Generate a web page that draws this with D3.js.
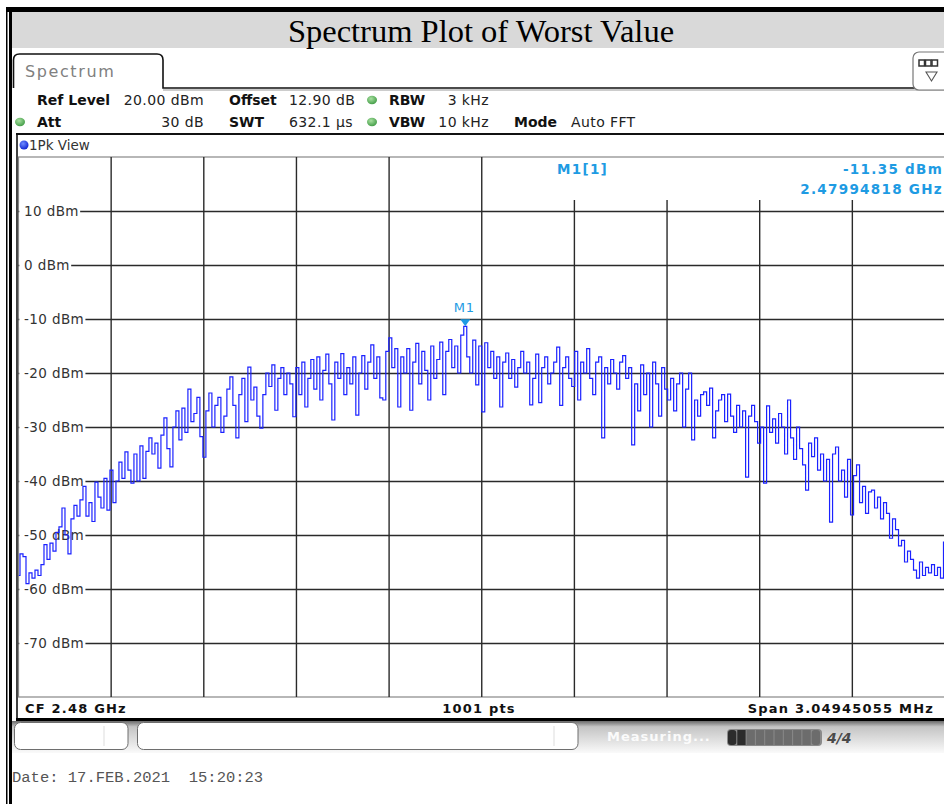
<!DOCTYPE html>
<html>
<head>
<meta charset="utf-8">
<script src="https://cdn.jsdelivr.net/npm/d3@7"></script>
<style>
  html, body { margin: 0; padding: 0; background: #fff; }
  svg { display: block; }
  text { font-family: "DejaVu Sans", sans-serif; }
</style>
</head>
<body>
<div id="chart"></div>
<script>
// Instrument settings
const centerGHz = 2.48;
const spanMHz = 3.04945055;
const refLevel = 20;          // top of grid, dBm
const bottomLevel = -80;      // bottom of grid, dBm
const yTicks = [10, 0, -10, -20, -30, -40, -50, -60, -70];
const xDivisions = 10;

// Header readouts
const settingsRow1 = [
    { label: 'Ref Level', value: '20.00 dBm', lx: 37, vx: 204, anchor: 'end' },
    { label: 'Offset', value: '12.90 dB', lx: 229, vx: 289, anchor: 'start' },
    { label: 'RBW', value: '3 kHz', lx: 389, vx: 489, anchor: 'end', dot: 372 }
];
const settingsRow2 = [
    { label: 'Att', value: '30 dB', lx: 37, vx: 204, anchor: 'end', dot: 20 },
    { label: 'SWT', value: '632.1 µs', lx: 229, vx: 289, anchor: 'start' },
    { label: 'VBW', value: '10 kHz', lx: 389, vx: 489, anchor: 'end', dot: 372 },
    { label: 'Mode', value: 'Auto FFT', lx: 514, vx: 571, anchor: 'start' }
];

// Marker readout
const markerName = 'M1';
const markerTrace = 'M1[1]';
const markerLevel = '-11.35 dBm';
const markerFreq = '2.47994818 GHz';

// Trace, max-peak detector, evenly spaced over the span
const traceDbm = [
    -57.5, -53.5, -54, -59, -57, -58, -56.5, -57.5, -55.5, -51.8,
    -54.5, -51.5, -53, -49.5, -48.5, -45, -50, -53.5, -47, -44.5,
    -46.5, -43.5, -41, -46.5, -44, -47.5, -40.2, -43, -45, -39.5,
    -45.4, -38, -44, -40, -36.5, -39.5, -34.6, -38, -40.4, -35,
    -40, -33.5, -39.5, -34.5, -32, -35, -33, -37.6, -31.5, -28.3,
    -34, -37.4, -30, -27, -32.4, -26.5, -31, -23, -29, -27.5,
    -24.5, -31.8, -35.6, -27, -23.7, -30, -26, -24.5, -31, -28,
    -23, -20.7, -26, -32, -24, -21, -29, -18.9, -25, -22.6,
    -28, -30.2, -24, -20, -22.5, -18.5, -26.9, -21, -19, -24,
    -20, -22, -28.1, -19, -24, -18, -26.3, -21, -17.5, -23,
    -17, -25, -19.5, -16.5, -22, -28.7, -18, -21, -16.4, -24,
    -19, -22, -17, -27.8, -20, -16.8, -23, -18, -14.8, -21,
    -17, -24.6, -25, -16, -13.5, -19, -15.5, -26.3, -17, -20,
    -15.5, -26.9, -18, -14.5, -22, -16, -19.5, -25, -15, -21,
    -17.5, -14.3, -24, -16, -13.8, -19, -15, -20, -13, -11.35,
    -17, -20, -13.9, -22.2, -15, -27.2, -14.4, -19, -16, -21,
    -17, -26.3, -18, -16.3, -21, -17.5, -22.6, -19, -16, -20,
    -18, -25.9, -21, -16.5, -25.5, -19, -17, -22, -20, -18,
    -15.2, -26, -19, -17, -21, -22.5, -16, -25, -18, -20,
    -15.5, -21, -24, -18, -17, -32, -19, -22, -17.5, -20,
    -23, -18, -16.8, -21, -19, -33.3, -22, -27, -18.5, -24,
    -20, -30, -18, -22, -28, -19, -23, -25, -21, -27,
    -22, -20, -30, -23, -20, -32.4, -25, -28, -24, -23.5,
    -26, -22.8, -32, -27, -25, -24, -29, -23.9, -28, -31,
    -26, -30, -27, -39.3, -28, -26, -29, -33, -30, -40.4,
    -26.1, -31, -28.5, -33, -27.5, -30, -35, -25, -32, -36,
    -30, -34, -37, -41.7, -33, -35.5, -32, -38, -35, -40,
    -36, -47.6, -35, -33.7, -40, -38, -43, -36, -46.3, -39,
    -37, -44, -41, -46, -42, -41.7, -45, -43, -47, -44,
    -46, -50.6, -47, -49, -52, -51, -55, -53, -54.5, -56.5,
    -58, -55, -57.5, -56, -57, -55.5, -57.5, -56, -58, -51.3
];

const W = 944, H = 804;
const plot = { left: 18.5, right: 945, top: 157, bottom: 697 };

const fStart = centerGHz * 1000 - spanMHz / 2;
const fEnd = centerGHz * 1000 + spanMHz / 2;
const points = traceDbm.map((v, i) => ({
    f: fStart + i * spanMHz / (traceDbm.length - 1),
    v: v
}));

const x = d3.scaleLinear().domain([fStart, fEnd]).range([plot.left, plot.right]);
const y = d3.scaleLinear().domain([bottomLevel, refLevel]).range([plot.bottom, plot.top]);

const svg = d3.select('#chart').append('svg')
    .attr('width', W)
    .attr('height', H);

const defs = svg.append('defs');
defs.append('clipPath').attr('id', 'plot-clip')
    .append('rect')
    .attr('x', plot.left).attr('y', plot.top)
    .attr('width', plot.right - plot.left).attr('height', plot.bottom - plot.top);

const grad = defs.append('linearGradient').attr('id', 'status-grad')
    .attr('x1', 0).attr('y1', 0).attr('x2', 0).attr('y2', 1);
grad.append('stop').attr('offset', '0%').attr('stop-color', '#6a6a6a');
grad.append('stop').attr('offset', '18%').attr('stop-color', '#c4c4c4');
grad.append('stop').attr('offset', '100%').attr('stop-color', '#fafafa');

const greenGrad = defs.append('radialGradient').attr('id', 'green-dot')
    .attr('cx', '40%').attr('cy', '35%').attr('r', '70%');
greenGrad.append('stop').attr('offset', '0%').attr('stop-color', '#a8e0a0');
greenGrad.append('stop').attr('offset', '100%').attr('stop-color', '#3f9a44');

const blueGrad = defs.append('radialGradient').attr('id', 'blue-dot')
    .attr('cx', '40%').attr('cy', '35%').attr('r', '70%');
blueGrad.append('stop').attr('offset', '0%').attr('stop-color', '#6f8cff');
blueGrad.append('stop').attr('offset', '100%').attr('stop-color', '#0a1fd0');

// Title band and outer frame
svg.append('rect').attr('x', 12).attr('y', 12).attr('width', W - 12).attr('height', 36)
    .attr('fill', '#d9d9d9');
svg.append('text')
    .attr('x', 481).attr('y', 42)
    .attr('text-anchor', 'middle')
    .style('font-family', '"Liberation Serif", "Times New Roman", serif')
    .style('font-size', '32.5px')
    .attr('fill', '#000')
    .text('Spectrum Plot of Worst Value');
svg.append('rect').attr('x', 6).attr('y', 7).attr('width', W - 6).attr('height', 5).attr('fill', '#000');
svg.append('rect').attr('x', 6).attr('y', 7).attr('width', 1.5).attr('height', H - 7).attr('fill', '#000');
svg.append('rect').attr('x', 9).attr('y', 7).attr('width', 3).attr('height', H - 7).attr('fill', '#000');

// Spectrum tab
svg.append('path')
    .attr('d', 'M13.5,88 L13.5,60 Q13.5,54 19.5,54 L157,54 Q163,54 163,60 L163,88 L' + W + ',88')
    .attr('fill', 'none').attr('stroke', '#111').attr('stroke-width', 1.6);
svg.append('line').attr('x1', 163).attr('x2', W).attr('y1', 90).attr('y2', 90)
    .attr('stroke', '#999').attr('stroke-width', 1);
svg.append('text')
    .attr('x', 25).attr('y', 77)
    .style('font-size', '16px').style('letter-spacing', '1.6px')
    .attr('fill', '#808080')
    .text('Spectrum');

// Right icon button
svg.append('rect').attr('x', 913).attr('y', 52).attr('width', 44).attr('height', 38).attr('rx', 6)
    .attr('fill', '#fff').attr('stroke', '#777').attr('stroke-width', 1.2);
svg.selectAll('.icon-seg').data(d3.range(3)).join('rect')
    .attr('class', 'icon-seg')
    .attr('x', d => 919 + d * 6.5).attr('y', 60).attr('width', 5.5).attr('height', 6)
    .attr('fill', '#fff').attr('stroke', '#333').attr('stroke-width', 1.5);
svg.append('path').attr('d', 'M926,72 L937,72 L931.5,81 Z')
    .attr('fill', 'none').attr('stroke', '#555').attr('stroke-width', 1.1);

// Settings readout
function drawRow(row, baseline) {
    row.forEach(s => {
        if (s.dot !== undefined) {
            svg.append('ellipse')
                .attr('cx', s.dot).attr('cy', baseline - 5).attr('rx', 5).attr('ry', 4.2)
                .attr('fill', 'url(#green-dot)');
        }
        svg.append('text')
            .attr('x', s.lx).attr('y', baseline)
            .style('font-size', '14px').style('font-weight', 'bold')
            .attr('fill', '#111')
            .text(s.label);
        svg.append('text')
            .attr('x', s.vx).attr('y', baseline)
            .attr('text-anchor', s.anchor)
            .style('font-size', '14px').style('letter-spacing', '0.4px')
            .attr('fill', '#222')
            .text(s.value);
    });
}
drawRow(settingsRow1, 105);
drawRow(settingsRow2, 127);

// View box
svg.append('line').attr('x1', 16).attr('x2', W).attr('y1', 134).attr('y2', 134)
    .attr('stroke', '#111').attr('stroke-width', 2);
svg.append('line').attr('x1', 17).attr('x2', 17).attr('y1', 134).attr('y2', 720)
    .attr('stroke', '#111').attr('stroke-width', 1.6);
svg.append('circle').attr('cx', 24).attr('cy', 145).attr('r', 4.5).attr('fill', 'url(#blue-dot)');
svg.append('text')
    .attr('x', 29).attr('y', 150)
    .style('font-size', '13.5px')
    .attr('fill', '#333')
    .text('1Pk View');

// Plot frame
svg.append('rect')
    .attr('x', plot.left).attr('y', plot.top)
    .attr('width', plot.right - plot.left).attr('height', plot.bottom - plot.top)
    .attr('fill', '#fff').attr('stroke', '#888').attr('stroke-width', 1.2);

// Vertical grid (shortened where the marker readout sits)
const gridStep = spanMHz / xDivisions;
const xGrid = d3.range(1, xDivisions).map(i => fStart + i * gridStep);
const readoutLeft = 484, readoutBottom = 200;
svg.append('g').selectAll('line').data(xGrid).join('line')
    .attr('x1', d => x(d)).attr('x2', d => x(d))
    .attr('y1', d => x(d) > readoutLeft ? readoutBottom : plot.top)
    .attr('y2', plot.bottom)
    .attr('stroke', '#2a2a2a').attr('stroke-width', 1.4);

// Horizontal grid with level labels
const yAxis = d3.axisRight(y)
    .tickValues(yTicks)
    .tickSize(plot.right - plot.left)
    .tickFormat(d => d + ' dBm');
const yAxisG = svg.append('g')
    .attr('transform', `translate(${plot.left},0)`)
    .call(yAxis);
yAxisG.select('.domain').remove();
yAxisG.selectAll('.tick line').attr('stroke', '#2a2a2a').attr('stroke-width', 1.4);
yAxisG.selectAll('.tick text')
    .attr('x', 5.5).attr('dy', '0.36em')
    .attr('text-anchor', 'start')
    .style('font-family', '"DejaVu Sans", sans-serif')
    .style('font-size', '13.5px')
    .style('letter-spacing', '0.4px')
    .attr('fill', '#333');
yAxisG.selectAll('.tick').each(function () {
    const t = d3.select(this);
    const bb = t.select('text').node().getBBox();
    t.insert('rect', 'text')
        .attr('x', 0.8).attr('y', bb.y)
        .attr('width', bb.x + bb.width + 0.5).attr('height', bb.height)
        .attr('fill', '#fff');
});

// Marker readout
const blue = '#1e9be3';
const readStyle = sel => sel.style('font-size', '13.5px').style('letter-spacing', '1.3px')
    .style('font-weight', 'bold').attr('fill', blue);
svg.append('text').attr('x', 557).attr('y', 174).call(readStyle).text(markerTrace);
svg.append('text').attr('x', 943).attr('y', 174).attr('text-anchor', 'end').call(readStyle)
    .text(markerLevel);
svg.append('text').attr('x', 943).attr('y', 194).attr('text-anchor', 'end').call(readStyle)
    .text(markerFreq);

// Trace
const line = d3.line()
    .x(d => x(d.f))
    .y(d => y(d.v))
    .curve(d3.curveStep);
svg.append('path')
    .datum(points)
    .attr('clip-path', 'url(#plot-clip)')
    .attr('d', line)
    .attr('fill', 'none')
    .attr('stroke', '#1b22ff')
    .attr('stroke-width', 1.2);

// Peak marker
const peak = points.reduce((a, b) => (b.v > a.v ? b : a));
const mx = x(peak.f), my = y(peak.v);
svg.append('path')
    .attr('d', `M${mx - 5},${my - 7} L${mx + 5},${my - 7} L${mx},${my} Z`)
    .attr('fill', blue);
svg.append('text').attr('x', mx - 1).attr('y', my - 14).attr('text-anchor', 'middle')
    .style('font-size', '13px').style('letter-spacing', '0.8px')
    .attr('fill', blue).text(markerName);

// Footer line
svg.append('line').attr('x1', 16).attr('x2', W).attr('y1', 719.5).attr('y2', 719.5)
    .attr('stroke', '#000').attr('stroke-width', 3);
const footStyle = sel => sel.style('font-size', '13px').style('font-weight', 'bold')
    .style('letter-spacing', '1.2px').attr('fill', '#111');
svg.append('text').attr('x', 25).attr('y', 713).call(footStyle).text('CF ' + centerGHz + ' GHz');
svg.append('text').attr('x', 479).attr('y', 713).attr('text-anchor', 'middle').call(footStyle)
    .text('1001 pts');
svg.append('text').attr('x', 934).attr('y', 713).attr('text-anchor', 'end').call(footStyle)
    .text('Span ' + spanMHz + ' MHz');

// Status strip
svg.append('rect').attr('x', 12).attr('y', 721).attr('width', W - 12).attr('height', 32)
    .attr('fill', 'url(#status-grad)');
svg.append('rect').attr('x', 12).attr('y', 753).attr('width', W - 12).attr('height', H - 753)
    .attr('fill', '#fff');
[[14.5, 128], [137.5, 578]].forEach(([a, b], i) => {
    svg.append('rect').attr('x', a).attr('y', 722.5).attr('width', b - a).attr('height', 27)
        .attr('rx', 6).attr('fill', '#fff').attr('stroke', '#6e6e6e').attr('stroke-width', 1);
    const div = i === 0 ? 104 : 554;
    svg.append('line').attr('x1', div).attr('x2', div).attr('y1', 726).attr('y2', 746)
        .attr('stroke', '#ddd').attr('stroke-width', 1);
});
svg.append('text').attr('x', 607).attr('y', 741)
    .style('font-size', '13px').style('font-weight', 'bold').style('letter-spacing', '1px')
    .attr('fill', '#fff').attr('opacity', 0.9).text('Measuring...');
svg.append('rect').attr('x', 727).attr('y', 729).attr('width', 95).attr('height', 17).attr('rx', 4)
    .attr('fill', '#8a8a8a');
svg.selectAll('.prog').data(d3.range(10)).join('rect')
    .attr('class', 'prog')
    .attr('x', d => 728 + d * 9.3).attr('y', 730).attr('width', 8.3).attr('height', 15)
    .attr('rx', d => (d === 0 || d === 9) ? 3 : 0)
    .attr('fill', d => d < 2 ? '#2c2c2c' : '#6c6c6c');
svg.append('text').attr('x', 827).attr('y', 743)
    .style('font-size', '14px').style('font-weight', 'bold').style('font-style', 'italic')
    .attr('fill', '#4a4a4a').text('4/4');

// Timestamp
svg.append('text').attr('x', 12).attr('y', 782)
    .style('font-family', '"Liberation Mono", "Courier New", monospace')
    .style('font-size', '15.5px')
    .attr('fill', '#555')
    .attr('xml:space', 'preserve')
    .text('Date: 17.FEB.2021  15:20:23');
</script>
</body>
</html>
